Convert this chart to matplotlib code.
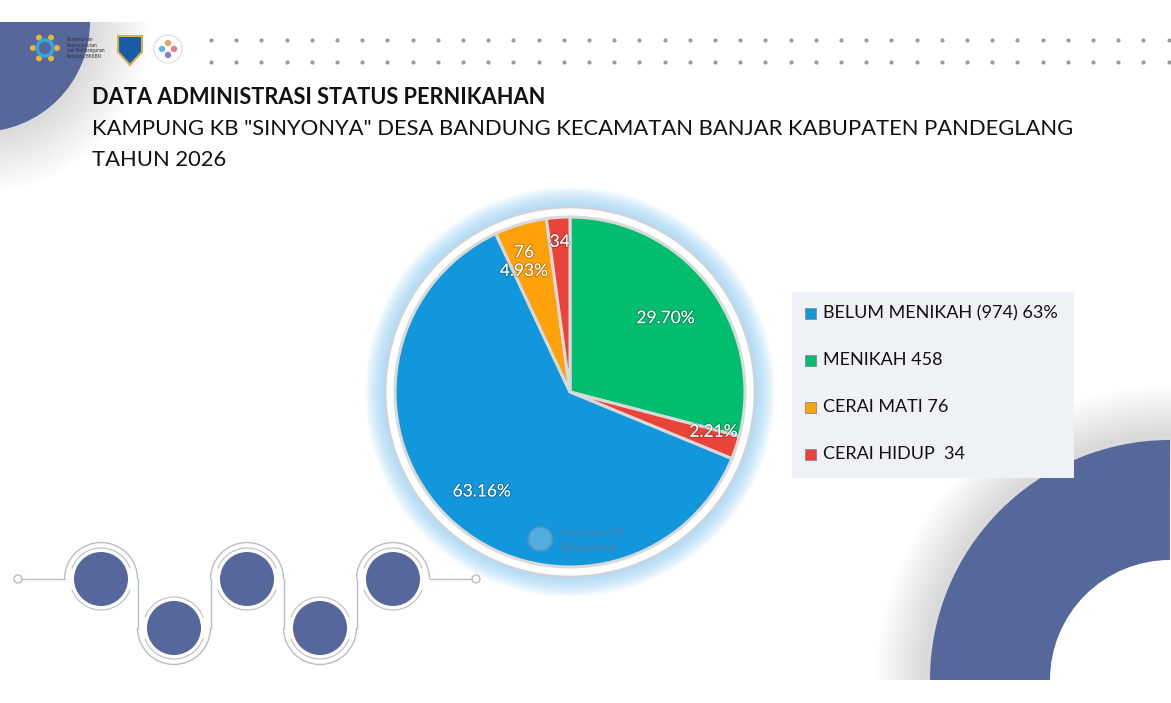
import numpy as np
import matplotlib

matplotlib.use("Agg")
import matplotlib.pyplot as plt
from matplotlib.patches import Circle, Wedge, Rectangle, Arc, Polygon
import matplotlib.patheffects as pe

plt.rcParams["font.family"] = ["Lato", "DejaVu Sans"]

# data
categories = ["BELUM MENIKAH", "MENIKAH", "CERAI MATI", "CERAI HIDUP"]
counts = [974, 458, 76, 34]
legend_labels = ["BELUM MENIKAH (974) 63%", "MENIKAH 458", "CERAI MATI 76", "CERAI HIDUP  34"]
# wedges as drawn in the source, clockwise from 12 o'clock (red slice appears twice)
wedge_order = [1, 3, 0, 2, 3]
wedge_labels = ["29.70%", "2.21%", "63.16%", "76\n4.93%", "34"]

title_lines = [
    "DATA ADMINISTRASI STATUS PERNIKAHAN",
    'KAMPUNG KB "SINYONYA" DESA BANDUNG KECAMATAN BANJAR KABUPATEN PANDEGLANG',
    "TAHUN 2026",
]

colors = ["#1296dc", "#00be6e", "#ffa10a", "#e9433a"]
deco = "#56679b"
W, H = 1171, 703

fig = plt.figure(figsize=(W / 100, H / 100), dpi=100)
fig.patch.set_facecolor("white")

# background / decoration axes in pixel coordinates
bg = fig.add_axes([0, 0, 1, 1])
bg.set_xlim(0, W)
bg.set_ylim(H, 0)
bg.axis("off")

# top-left shape with soft shadow
for k in range(12):
    bg.add_patch(Wedge((-20, 22), 110 + 5 * (k + 1), 0, 90, color="#000000", alpha=0.01, lw=0))
bg.add_patch(Wedge((-20, 22), 110, 0, 90, color=deco, lw=0))
bg.add_patch(Rectangle((0, 0), W, 22, color="white", lw=0))

# bottom-right ring with shadow
for k in range(14):
    bg.add_patch(Wedge((1172, 682), 240 + 4 * (k + 1), 180, 270, width=50, color="#000000",
                       alpha=0.012, lw=0))
bg.add_patch(Wedge((1170, 680), 240, 180, 270, width=120, color=deco, lw=0))
bg.add_patch(Rectangle((0, 680), W, H - 680, color="white", lw=0))

# dotted rows
dot_x = np.arange(211, 1170, 25.2)
bg.scatter(dot_x, np.full(len(dot_x), 40), s=9, color="#9a9a9a", lw=0)
bg.scatter(dot_x, np.full(len(dot_x), 62), s=9, color="#9a9a9a", lw=0)

# logos (simplified)
for ang in np.linspace(0, 2 * np.pi, 7)[:-1]:
    bg.add_patch(Circle((45 + 12 * np.cos(ang), 48 + 12 * np.sin(ang)), 3,
                        color="#f2b233", lw=0))
bg.add_patch(Circle((45, 48), 8, fill=False, ec="#2fa7e0", lw=2.5))
bg.text(67, 48, "Kementerian\nKependudukan\ndan Pembangunan\nKeluarga/BKKBN", fontsize=3.3,
        va="center", ha="left", color="#333333", linespacing=1.1)
bg.add_patch(Polygon([(118, 36), (142, 36), (142, 52), (130, 65), (118, 52)],
                     closed=True, fc="#1a5aa8", ec="#d4b24a", lw=1.5))
bg.add_patch(Circle((168, 49), 14, fc="white", ec="#e7e0ee", lw=1))
for ang, c in zip(np.linspace(0, 2 * np.pi, 5)[:-1], ["#e05a6a", "#7a5ab0", "#2fa7e0", "#e78a3a"]):
    bg.add_patch(Circle((168 + 6 * np.cos(ang), 49 + 6 * np.sin(ang)), 3.2, color=c, lw=0, alpha=0.8))

# title
bg.text(92, 98, title_lines[0], fontsize=15.7, fontweight="bold", va="center", ha="left",
        color="#111111")
bg.text(92, 129, title_lines[1], fontsize=15.85, va="center", ha="left", color="#111111")
bg.text(92, 160, title_lines[2], fontsize=15.85, va="center", ha="left", color="#111111")

# wavy connector with circles at the bottom-left
line_c = "#b9bdc8"
cx = [101, 174, 247, 320, 393]
cy = [579, 628, 579, 628, 579]
r_path = 36.5
bg.plot([22, cx[0] - r_path], [579, 579], color=line_c, lw=1)
bg.plot([cx[-1] + r_path, 472], [579, 579], color=line_c, lw=1)
bg.add_patch(Circle((18, 579), 4, fill=False, ec=line_c, lw=1))
bg.add_patch(Circle((476, 579), 4, fill=False, ec=line_c, lw=1))
for i, (x, y) in enumerate(zip(cx, cy)):
    top = y == 579
    # inverted y axis: angles 180..360 go over the top visually
    if top:
        bg.add_patch(Arc((x, y), 2 * r_path, 2 * r_path, theta1=180, theta2=360, color=line_c, lw=1))
    else:
        bg.add_patch(Arc((x, y), 2 * r_path, 2 * r_path, theta1=0, theta2=180, color=line_c, lw=1))
    if i < len(cx) - 1:
        bg.plot([x + r_path, x + r_path], [579, 628], color=line_c, lw=1)
    bg.add_patch(Arc((x, y), 62, 62, theta1=200, theta2=340, color=line_c, lw=0.8))
    bg.add_patch(Arc((x, y), 62, 62, theta1=20, theta2=160, color=line_c, lw=0.8))
    bg.add_patch(Circle((x, y), 27, color=deco, lw=0))

# legend box
bg.add_patch(Rectangle((792, 292), 282, 186, color="#eef1f5", lw=0))
leg_y = [313, 360, 407, 454]
for i, lab in enumerate(legend_labels):
    bg.add_patch(Rectangle((805, leg_y[i] - 5.5), 11, 11, fc=colors[i], ec="#8a8a8a", lw=0.6))
    bg.text(823, leg_y[i], lab, fontsize=13, va="center", ha="left", color="#111111")

# pie axes
R = 175
half = 1.25 * R
pax = fig.add_axes([(570 - half) / W, (H - 392 - half) / H, 2 * half / W, 2 * half / H])

for k in range(12):
    pax.add_patch(Circle((0, 0), 1.17 - 0.009 * k, color="#8fcdf5", alpha=0.08, lw=0))
pax.add_patch(Circle((0, 0), 1.055, fc="white", ec="#cfd3d8", lw=1.5))

values = [counts[i] for i in wedge_order]
wcolors = [colors[i] for i in wedge_order]
wedges, _ = pax.pie(values, colors=wcolors, startangle=90, counterclock=False, radius=1,
                    wedgeprops=dict(edgecolor="#d9d9d9", linewidth=2.2))
pax.set_xlim(-1.25, 1.25)
pax.set_ylim(-1.25, 1.25)
pax.set_aspect("equal")
pax.axis("off")

# label radius and angular nudge (degrees) per wedge
label_r = [0.69, 0.85, 0.76, 0.79, 0.86]
label_dt = [0, 3, 2, 3, 0]
for w, txt, rr, dt in zip(wedges, wedge_labels, label_r, label_dt):
    mid = np.deg2rad((w.theta1 + w.theta2) / 2 + dt)
    pax.text(rr * np.cos(mid), rr * np.sin(mid), txt, ha="center", va="center", fontsize=12.5,
             color="white", linespacing=1.2,
             path_effects=[pe.withStroke(linewidth=1.5, foreground="#00000040")])

# watermark
pax.add_patch(Circle((-0.17, -0.84), 0.07, fc="#6fb6e0", ec="#4f8fbf", lw=1.5, alpha=0.7))
pax.text(-0.06, -0.80, "Kampung KB", fontsize=8, color="#4f7fa8", alpha=0.8, va="center")
pax.text(-0.06, -0.89, "Sinyonya", fontsize=10, fontweight="bold", color="#4f7fa8", alpha=0.8,
         va="center")

fig.savefig("out.png", dpi=100)
plt.close(fig)
